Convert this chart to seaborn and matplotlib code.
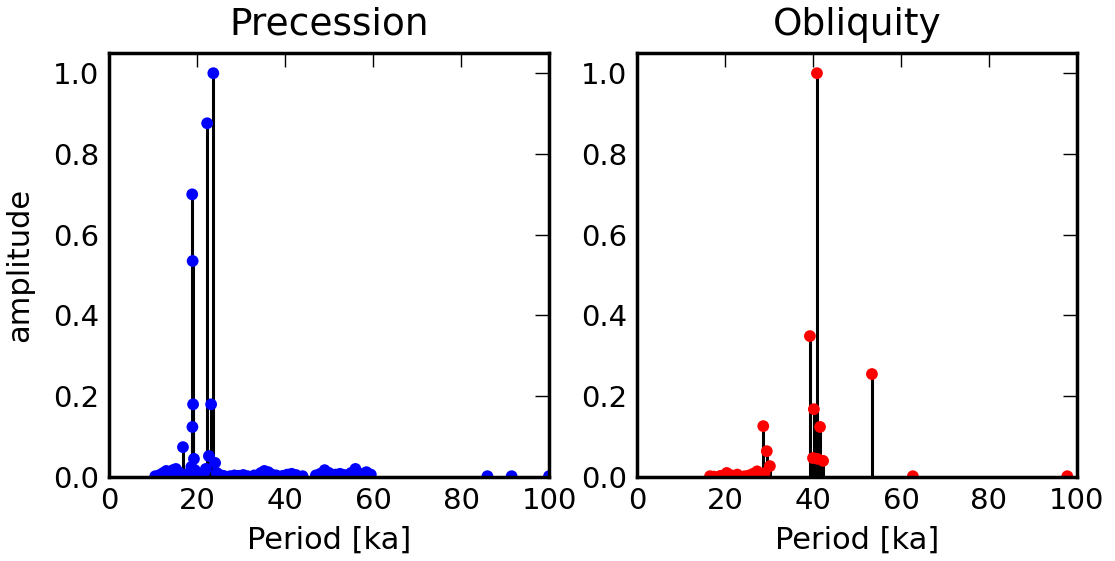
import matplotlib
matplotlib.use("Agg")
import matplotlib.pyplot as plt
import seaborn as sns
import pandas as pd

# Precession spectrum (period in ka, normalised amplitude)
prec_period = [10.5, 11.5, 12.3, 13.0, 13.8, 14.5, 15.2, 15.8, 16.3, 16.8, 17.5, 18.3,
               18.7, 18.9, 19.0, 19.1, 18.95, 19.3, 19.5, 20.0, 20.5, 21.0, 21.6, 22.0,
               22.3, 22.7, 23.2, 23.7, 24.1, 24.5, 25.2, 26.0, 27.5, 28.5, 29.5, 30.5,
               31.5, 33.0, 34.5, 35.3, 36.2, 37.0, 38.0, 39.5, 40.5, 41.5, 42.5, 44.0,
               47.0, 48.0, 49.0, 50.0, 51.5, 52.5, 53.5, 55.0, 56.0, 57.0, 58.5, 59.5,
               86.0, 91.5, 100.0]
prec_amp = [0.002, 0.005, 0.010, 0.015, 0.012, 0.017, 0.020, 0.012, 0.008, 0.074, 0.005, 0.010,
            0.025, 0.700, 0.535, 0.180, 0.124, 0.045, 0.017, 0.008, 0.004, 0.005, 0.010, 0.020,
            0.876, 0.052, 0.180, 1.000, 0.035, 0.010, 0.005, 0.003, 0.002, 0.004, 0.003, 0.005,
            0.002, 0.004, 0.010, 0.015, 0.012, 0.006, 0.004, 0.003, 0.006, 0.008, 0.005, 0.002,
            0.004, 0.008, 0.017, 0.010, 0.006, 0.008, 0.005, 0.010, 0.020, 0.008, 0.012, 0.006,
            0.002, 0.002, 0.002]

# Obliquity spectrum
obl_period = [16.6, 17.5, 19.0, 20.4, 21.5, 22.8, 24.5, 25.5, 26.4, 27.3, 28.0, 28.7,
              29.0, 29.5, 30.2, 39.3, 40.0, 40.2, 40.9, 41.0, 41.6, 42.3, 53.4, 62.7, 97.8]
obl_amp = [0.002, 0.001, 0.003, 0.010, 0.004, 0.006, 0.002, 0.004, 0.008, 0.014, 0.006, 0.126,
           0.010, 0.064, 0.027, 0.349, 0.047, 0.168, 1.000, 0.045, 0.124, 0.040, 0.255, 0.002, 0.002]

titles = ["Precession", "Obliquity"]
colors = ["#0000ff", "#ff0000"]
xticks = [0, 20, 40, 60, 80, 100]
yticks = [0.0, 0.2, 0.4, 0.6, 0.8, 1.0]

sns.set_style("white")
plt.rcParams.update({
    "font.family": ["DejaVu Sans"],
    "text.color": "black", "axes.labelcolor": "black",
    "xtick.direction": "in", "ytick.direction": "in",
    "xtick.top": True, "ytick.right": True,
    "xtick.major.size": 10, "ytick.major.size": 10,
    "xtick.major.width": 1, "ytick.major.width": 1,
    "xtick.color": "black", "ytick.color": "black",
    "xtick.labelcolor": "black", "ytick.labelcolor": "black",
    "axes.edgecolor": "black",
})

fig = plt.figure(figsize=(11.15, 5.61), dpi=100)
ax1 = fig.add_axes([0.0978, 0.1497, 0.3946, 0.7558])
ax2 = fig.add_axes([0.5713, 0.1497, 0.3946, 0.7558])

datasets = [(prec_period, prec_amp), (obl_period, obl_amp)]
for ax, (per, amp), title, col in zip([ax1, ax2], datasets, titles, colors):
    df = pd.DataFrame({"period": per, "amp": amp})
    ax.vlines(df["period"], 0, df["amp"], colors="black", linewidth=2.2, zorder=2)
    sns.scatterplot(data=df, x="period", y="amp", ax=ax, color=col, s=72,
                    edgecolor="none", zorder=3)
    ax.set_xlim(0, 100)
    ax.set_ylim(0, 1.05)
    ax.set_xticks(xticks)
    ax.set_yticks(yticks)
    ax.set_yticklabels([f"{v:.1f}" for v in yticks])
    ax.tick_params(labelsize=21, pad=7)
    ax.set_title(title, fontsize=27, pad=13)
    ax.set_xlabel("Period [ka]", fontsize=22, labelpad=8)
    ax.set_ylabel("")
    for s in ax.spines.values():
        s.set_linewidth(2.5)
        s.set_color("black")
        s.set_visible(True)
        s.set_zorder(5)

ax1.set_ylabel("amplitude", fontsize=22, labelpad=14)

fig.savefig("out.png", dpi=100)
